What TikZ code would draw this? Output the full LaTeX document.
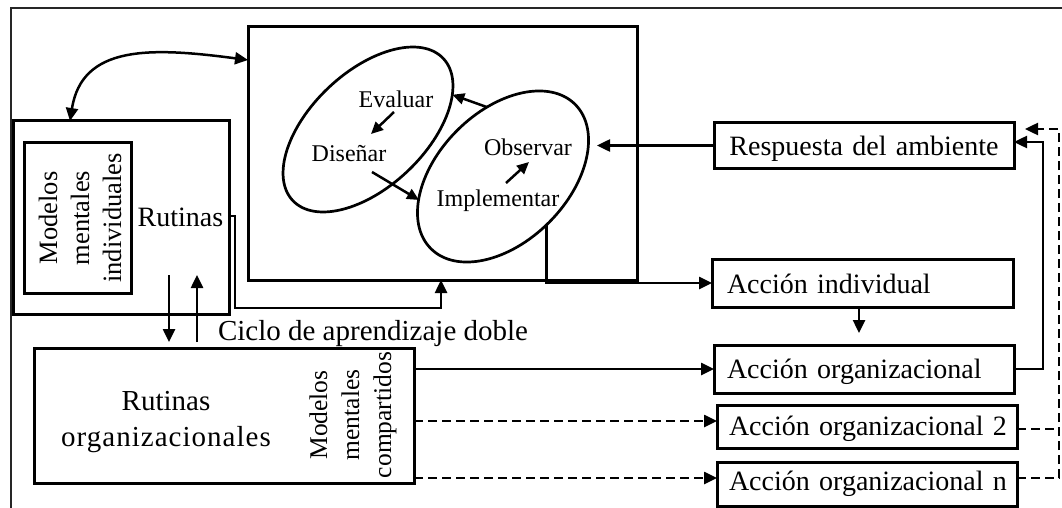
\documentclass[tikz,border=0pt]{standalone}
\usepackage{fontspec}
\setmainfont{Liberation Serif}
\usetikzlibrary{arrows.meta,shapes.geometric}
\newcommand{\txtsize}[2]{\fontsize{#1}{#2}\selectfont}

\begin{document}
\begin{tikzpicture}[x=1pt,y=1pt,
  every node/.style={outer sep=0pt},
  frameline/.style={line width=2pt,draw=black!85},
  plainbox/.style={draw,line width=3pt,inner sep=0pt,anchor=north west},
  actbox/.style={draw,line width=3pt,inner ysep=0pt,align=left,anchor=north west,font=\txtsize{28}{33}},
  oval/.style={draw,ellipse,line width=2.7pt,inner sep=0pt},
  lbl/.style={inner sep=0pt,font=\txtsize{28}{33}},
  oplbl/.style={inner sep=0pt,font=\txtsize{24}{28}},
  conn/.style={line width=2.5pt},
  dsh/.style={line width=2.5pt,dash pattern=on 9pt off 5pt},
  headarrow/.style={-{Triangle[length=13pt,width=12pt]}},
  smallhead/.style={-{Triangle[length=12pt,width=11pt]}},
  twohead/.style={{Triangle[length=13pt,width=12pt]}-{Triangle[length=13pt,width=12pt]}},
]
\useasboundingbox (0,0) rectangle (1062,-508);

% outer frame
\draw[frameline] (1062,-8) -- (11,-8) -- (11,-508);

% individual level
\node[plainbox,minimum width=216pt,minimum height=193pt] (indiv) at (13,-121) {};
\node[plainbox,minimum width=107pt,minimum height=151pt] (mmi) at (24,-142) {};
\node[lbl,font=\txtsize{26.5}{32},rotate=90,align=center] (mmitxt) at (80,-218) {Modelos\\mentales\\individuales};
\node[lbl,anchor=base] (rut) at (180.5,-226.7) {Rutinas};

% learning cycle
\node[plainbox,minimum width=389pt,minimum height=253pt] (cbox) at (248,-27) {};
\node[oval,minimum width=207pt,minimum height=115pt,rotate=43.4] (e1) at (368,-129.5) {};
\node[oval,minimum width=204pt,minimum height=130pt,rotate=45] (e2) at (503,-176.5) {};
\node[oplbl,anchor=base] (eval) at (396,-107.3) {Evaluar};
\node[oplbl,anchor=base] (dis) at (349,-161.7) {Diseñar};
\node[oplbl,anchor=base] (obs) at (528,-155) {Observar};
\node[oplbl,anchor=base] (imp) at (498,-206.7) {Implementar};

% organizational level
\node[plainbox,minimum width=380pt,minimum height=135pt] (org) at (34,-348) {};
\node[lbl,font=\txtsize{29}{36},align=center] (rorg) at (166,-422) {Rutinas\\{\addfontfeatures{LetterSpace=3.5}organizacionales}};
\node[lbl,font=\txtsize{25.5}{32},rotate=90,align=center] (mmc) at (353,-415) {Modelos\\mentales\\compartidos};
\node[lbl,font=\txtsize{29}{34},anchor=base west] (ciclo) at (218,-340) {Ciclo de aprendizaje doble};

% actions and environment
\node[actbox,inner xsep=14pt,text width=272pt,align=center,text height=32pt,text depth=13pt] (resp) at (714,-123) {\mbox{Respuesta del ambiente}};
\node[actbox,inner xsep=15pt,text width=271pt,text height=34.3pt,text depth=13.7pt] (ai) at (712,-259) {\mbox{Acción individual}};
\node[actbox,inner xsep=13pt,text width=274pt,text height=33.3pt,text depth=14.7pt] (ao) at (714,-345) {\mbox{Acción organizacional}};
\node[actbox,inner xsep=12pt,text width=276pt,text height=30pt,text depth=13pt] (ao2) at (717,-405) {\mbox{Acción organizacional 2}};
\node[actbox,inner xsep=12pt,text width=276pt,text height=28.7pt,text depth=15.3pt] (aon) at (717,-462) {\mbox{Acción organizacional n}};

% helper points
\coordinate (dnTop) at (169,-275);
\coordinate (upTop) at (197,-275);
\coordinate (evA) at (394,-112);
\coordinate (evB) at (371,-134);
\coordinate (diA) at (372,-172);
\coordinate (diB) at (419,-200);
\coordinate (imA) at (506,-183);
\coordinate (imB) at (529,-162);
\coordinate (y2) at (0,-421);
\coordinate (yn) at (0,-478);
\coordinate (y2r) at (0,-429);
\coordinate (dTop) at (1059,-129);
\coordinate (dTip) at (1025,-129);

% connectors
\draw[conn,twohead] (indiv.north west -| 70,0) .. controls (82,-45) and (150,-47) .. (cbox.west |- 0,-60);
\draw[conn,headarrow] (indiv.east |- 0,-216) -- ++(6,0) |- (441,-308) -- (cbox.south -| 441,0);
\draw[conn,headarrow,shorten >=6pt] (dnTop) -- (dnTop |- org.north);
\draw[conn,headarrow,shorten <=6pt] (upTop |- org.north) -- (upTop);

\draw[conn,smallhead] (evA) -- (evB);
\draw[conn,smallhead] (diA) -- (diB);
\draw[conn,smallhead] (imA) -- (imB);
\draw[conn,smallhead] (e2.58) -- (e1.339);

\draw[conn,headarrow] (resp.west) -- (resp.west -| 597,0);
\draw[conn,headarrow] (e2.267) |- (ai.west);
\draw[conn,headarrow] (ai.south -| 859,0) -- ++(0,-26);

\draw[conn,headarrow] (ao.west -| org.east) -- (ao.west);
\draw[dsh,headarrow] (org.east |- y2) -- (ao2.west |- y2);
\draw[dsh,headarrow] (org.east |- yn) -- (aon.west |- yn);

\draw[conn,headarrow] (ao.east) -- ++(29,0) |- (resp.east |- 0,-142);
\draw[dsh] (ao2.east |- y2r) -- (dTop |- y2r);
\draw[dsh,headarrow] (aon.east |- yn) -| (dTop) -- (dTip);
\end{tikzpicture}
\end{document}
